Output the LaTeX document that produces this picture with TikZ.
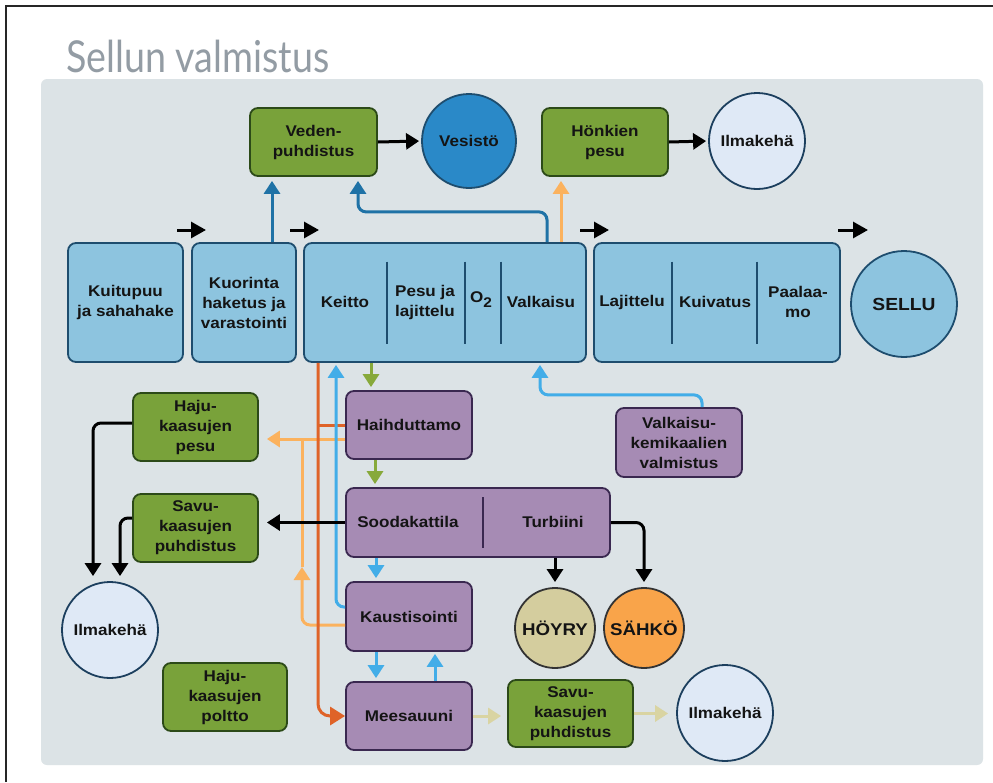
\documentclass[tikz,border=0pt]{standalone}
\usepackage{fontspec}
\setmainfont{Liberation Sans}[FakeStretch=1.1]
\newfontfamily\titlefont{Lato}[FakeStretch=0.855]
\usetikzlibrary{arrows.meta,calc}

\definecolor{panel}{HTML}{DCE3E6}
\definecolor{bfill}{HTML}{8DC4DF}
\definecolor{bline}{HTML}{1E4D6E}
\definecolor{gfill}{HTML}{79A23A}
\definecolor{gline}{HTML}{2C4A18}
\definecolor{pfill}{HTML}{A68BB4}
\definecolor{pline}{HTML}{3A2850}
\definecolor{afill}{HTML}{DFE9F6}
\definecolor{aline}{HTML}{1C3F5E}
\definecolor{vfill}{HTML}{2A89C8}
\definecolor{kfill}{HTML}{D4CD9E}
\definecolor{ofill}{HTML}{F9A44A}
\definecolor{dblue}{HTML}{1F72A6}
\definecolor{lblue}{HTML}{42ADE8}
\definecolor{lorange}{HTML}{FBB25E}
\definecolor{dorange}{HTML}{DF6328}
\definecolor{garrow}{HTML}{87A93B}
\definecolor{karrow}{HTML}{D9D4A2}
\definecolor{titlegray}{HTML}{939CA4}
\definecolor{txt}{HTML}{141414}

\tikzset{
  lbl/.style={font=\bfseries\fontsize{15.5}{20}\selectfont, text=txt, align=center, inner sep=0pt},
  bluebox/.style={lbl, rectangle, rounded corners=8pt, draw=bline, fill=bfill, line width=1.8pt},
  greenbox/.style={lbl, rectangle, rounded corners=8pt, draw=gline, fill=gfill, line width=1.8pt},
  purplebox/.style={lbl, rectangle, rounded corners=8pt, draw=pline, fill=pfill, line width=1.8pt},
  circ/.style={lbl, circle, draw=aline, line width=1.8pt},
  divider/.style={draw=bline, line width=1.8pt},
  conn/.style={line width=3pt, -{Triangle[width=16pt,length=13pt]}, rounded corners=8pt},
  plain/.style={line width=3pt, rounded corners=8pt},
  flowarrow/.style={line width=3pt, -{Triangle[width=16pt,length=15pt]}},
}

\begin{document}
\begin{tikzpicture}[x=1pt,y=-1pt]
\useasboundingbox (0,0) rectangle (993,782);
\fill[white] (0,0) rectangle (993,782);
\draw[line width=1.5pt, black!85] (6,782) -- (6,6) -- (993,6);
\fill[panel, rounded corners=6pt] (41,79) rectangle (983,765);

\node[anchor=base west, inner sep=0pt, font=\titlefont\fontsize{44}{44}\selectfont, text=titlegray] (title) at (66,72) {Sellun valmistus};

% top row
\node[greenbox, minimum width=127, minimum height=68] (veden) at (313.5,142) {Veden-\\puhdistus};
\node[circ, fill=vfill, draw=bline, minimum size=94] (vesisto) at (469,141) {Vesistö};
\node[greenbox, minimum width=126, minimum height=68] (honk) at (605,142) {Hönkien\\pesu};
\node[circ, fill=afill, minimum size=96] (ilma1) at (757,141) {Ilmakehä};

% process line
\node[bluebox, minimum width=115, minimum height=119] (kuitu) at (125.5,302.5) {Kuitupuu\\ja sahahake};
\node[bluebox, minimum width=104, minimum height=119] (kuor) at (244,302.5) {Kuorinta\\haketus ja\\varastointi};
\node[bluebox, minimum width=282, minimum height=119] (main) at (445,302.5) {};
\node[bluebox, minimum width=246, minimum height=119] (right) at (717,302.5) {};
\node[circ, fill=bfill, draw=bline, minimum size=106, font=\bfseries\fontsize{17.5}{20}\selectfont] (sellu) at (904,304) {SELLU};

\node[lbl] (keitto) at (345,302) {Keitto};
\node[lbl] (pesu) at (425,302) {Pesu ja\\lajittelu};
\node[lbl] (otwo) at (481,300) {O\raisebox{-5pt}{\fontsize{14}{14}\selectfont 2}};
\node[lbl] (valk) at (541,302) {Valkaisu};
\node[lbl] (lajit) at (632,302) {Lajittelu};
\node[lbl] (kuiv) at (715,302) {Kuivatus};
\node[lbl] (paal) at (798,302) {Paalaa-\\mo};

\draw[divider] ($(main.center)+(-58,-41)$) -- ++(0,82);
\draw[divider] ($(main.center)+(20,-41)$) -- ++(0,82);
\draw[divider] ($(main.center)+(56,-41)$) -- ++(0,82);
\draw[divider] ($(right.center)+(-45,-41)$) -- ++(0,82);
\draw[divider] ($(right.center)+(40,-41)$) -- ++(0,82);

% middle
\node[greenbox, minimum width=125, minimum height=68] (hajupesu) at (195.5,427) {Haju-\\kaasujen\\pesu};
\node[purplebox, minimum width=126, minimum height=68] (haihd) at (409,425) {Haihduttamo};
\node[purplebox, minimum width=126, minimum height=69] (valkem) at (679,442.5) {Valkaisu-\\kemikaalien\\valmistus};
\node[greenbox, minimum width=125, minimum height=68] (savu1) at (195.5,528) {Savu-\\kaasujen\\puhdistus};
\node[purplebox, minimum width=264, minimum height=69] (sooda) at (478,522.5) {};
\node[lbl] (soodat) at (408,522) {Soodakattila};
\node[lbl] (turb) at (553,522) {Turbiini};
\draw[draw=pline, line width=1.8pt] ($(sooda.center)+(5,-25.5)$) -- ++(0,51);

\node[circ, fill=afill, minimum size=96] (ilma2) at (110,630) {Ilmakehä};
\node[purplebox, minimum width=126, minimum height=69] (kaust) at (409,616.5) {Kaustisointi};
\node[circ, fill=kfill, draw=black!80, minimum size=80, font=\bfseries\fontsize{17}{20}\selectfont] (hoyry) at (555,628) {HÖYRY};
\node[circ, fill=ofill, draw=black!80, minimum size=80, font=\bfseries\fontsize{17}{20}\selectfont] (sahko) at (644,628) {SÄHKÖ};

% bottom
\node[greenbox, minimum width=124, minimum height=68] (hajupoltto) at (225,697) {Haju-\\kaasujen\\poltto};
\node[purplebox, minimum width=126, minimum height=68] (mees) at (409,716) {Meesauuni};
\node[greenbox, minimum width=125, minimum height=67] (savu2) at (570.5,713.5) {Savu-\\kaasujen\\puhdistus};
\node[circ, fill=afill, minimum size=96] (ilma3) at (725,713) {Ilmakehä};

% small flow arrows above process line
\coordinate (f1a) at (177,230); \coordinate (f1b) at (206,230);
\coordinate (f2a) at (290,230); \coordinate (f2b) at (319,230);
\coordinate (f3a) at (580,230); \coordinate (f3b) at (609,230);
\coordinate (f4a) at (838,230); \coordinate (f4b) at (868,230);
\draw[flowarrow] (f1a) -- (f1b);
\draw[flowarrow] (f2a) -- (f2b);
\draw[flowarrow] (f3a) -- (f3b);
\draw[flowarrow] (f4a) -- (f4b);

% top connectors
\draw[conn, black, shorten >=2pt] (veden.east) -- (vesisto.west);
\draw[conn, black, shorten >=2pt] (honk.east) -- (ilma1.west);
\draw[conn, dblue, shorten >=4pt] ([xshift=-41.5]veden.south |- kuor.north) -- ([xshift=-41.5]veden.south);
\draw[conn, dblue, shorten >=4pt] ([xshift=102]main.north) |- ([xshift=44.5,yshift=-35]veden.south) -- ([xshift=44.5]veden.south);
\draw[conn, lorange, shorten >=4pt] ([xshift=-44]honk.south |- main.north) -- ([xshift=-44]honk.south);

% light orange lines
\coordinate (lomid) at (302,567);
\draw[plain, lorange] ([yshift=-14]haihd.west) -- ([yshift=-14]haihd.west -| lomid);
\draw[conn, lorange, shorten >=8pt] ([yshift=-14]haihd.west -| lomid) -- ([yshift=-14]haihd.west -| hajupesu.east);
\draw[conn, lorange] ([yshift=-8.5]kaust.west) -| (lomid);
\draw[plain, lorange] (lomid) -- ([yshift=-14]haihd.west -| lomid);

% dark orange line
\coordinate (dotop) at ([xshift=-127]main.south);
\draw[plain, dorange] (haihd.west) -- (haihd.west -| dotop);
\draw[line width=3pt, rounded corners=12pt, dorange, -{Triangle[width=18pt,length=15pt]}] (dotop) |- (mees.west);

% green
\draw[conn, garrow, shorten >=3pt] ([xshift=-38]haihd.north |- main.south) -- ([xshift=-38]haihd.north);
\draw[conn, garrow, shorten >=3pt] ([xshift=-34]haihd.south) -- ([xshift=-34]haihd.south |- sooda.north);

% light blue
\draw[conn, lblue, shorten >=2pt] ([yshift=9.5]kaust.west) -| ([xshift=-109]main.south);
\draw[conn, lblue, shorten >=2pt] ([xshift=23]valkem.north) |- ([xshift=95,yshift=-32]main.south) -- ([xshift=95]main.south);
\draw[conn, lblue, shorten >=3pt] ([xshift=-33]kaust.north |- sooda.south) -- ([xshift=-33]kaust.north);
\draw[conn, lblue, shorten >=3pt] ([xshift=-33]mees.north |- kaust.south) -- ([xshift=-33]mees.north);
\draw[conn, lblue, shorten >=2pt] ([xshift=26]mees.north) -- ([xshift=26]mees.north |- kaust.south);

% black to the left
\draw[conn, black, shorten >=8pt] (sooda.west) -- (sooda.west -| savu1.east);
\draw[conn, black] ([yshift=4]hajupesu.west) -| ([xshift=-17,yshift=5]ilma2.north);
\draw[conn, black] ([yshift=10]savu1.west) -| ([xshift=10,yshift=5]ilma2.north);

% black from turbine
\draw[conn, black, shorten >=5pt] (hoyry.north |- sooda.south) -- (hoyry.north);
\draw[conn, black, shorten >=5pt] (sooda.east) -| (sahko.north);

% khaki
\draw[conn, karrow, shorten >=6pt] (mees.east) -- (mees.east -| savu2.west);
\draw[conn, karrow, shorten >=8pt] (savu2.east) -- (savu2.east -| ilma3.west);
\end{tikzpicture}
\end{document}
